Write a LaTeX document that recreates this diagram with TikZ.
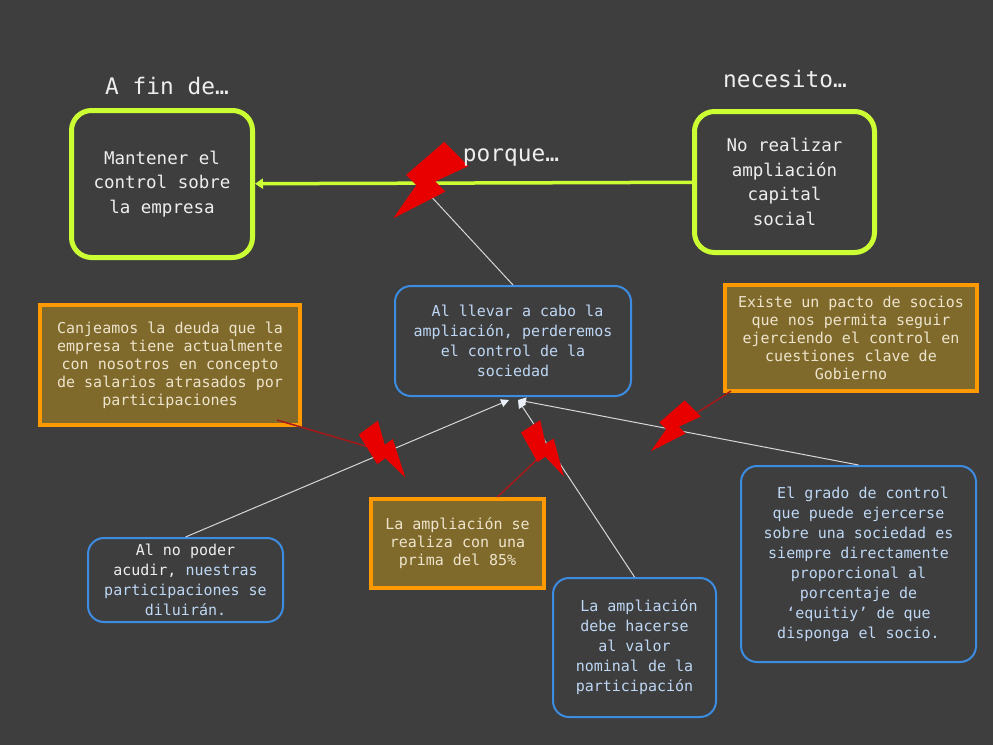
\documentclass[tikz,border=0pt]{standalone}
\usepackage{fontspec}
\setmonofont{DejaVu Sans Mono}
\usetikzlibrary{arrows.meta,calc}
\definecolor{bg}{RGB}{62,62,62}
\definecolor{lime}{RGB}{204,255,51}
\definecolor{bblue}{RGB}{60,140,225}
\definecolor{orng}{RGB}{255,153,0}
\definecolor{olive}{RGB}{127,106,43}
\definecolor{cream}{RGB}{238,228,205}
\definecolor{ltblue}{RGB}{190,215,245}
\definecolor{wtext}{RGB}{238,238,238}
\definecolor{boltred}{RGB}{232,0,0}
\definecolor{darkred}{RGB}{165,25,25}
\definecolor{grayline}{RGB}{215,215,215}
\definecolor{tipwhite}{RGB}{235,240,248}
\tikzset{
 greenbox/.style={draw=lime, line width=5pt, rounded corners=20pt, fill=bg, text=wtext, align=center, inner sep=0pt, font=\ttfamily\fontsize{17.5}{24.5}\selectfont},
 bluebox/.style={draw=bblue, line width=2pt, rounded corners=16pt, fill=bg, text=ltblue, align=center, inner sep=0pt, font=\ttfamily\fontsize{15}{20}\selectfont},
 orangebox/.style={draw=orng, line width=4pt, fill=olive, text=cream, align=center, inner sep=0pt, font=\ttfamily\fontsize{15}{18}\selectfont},
 title/.style={text=wtext, font=\ttfamily\fontsize{22.8}{26}\selectfont, inner sep=0pt},
 link/.style={draw=grayline, line width=1pt, -{Triangle[length=8pt,width=8pt,fill=tipwhite,color=tipwhite]}},
 plainlink/.style={draw=grayline, line width=1pt},
 redlink/.style={draw=darkred, line width=1.5pt},
 greenarrow/.style={draw=lime, line width=3.5pt, -{Triangle[length=8pt,width=10pt]}},
 bolt/.pic={\fill[boltred] (-18,-50) -- (20,-50) -- (6,-12) -- (22,-12) -- (2,50) -- (-6,6) -- (-22,6) -- cycle;}
}
\begin{document}
\begin{tikzpicture}[x=1pt,y=-1pt]
\fill[bg] (0,0) rectangle (993,745);
\useasboundingbox (0,0) rectangle (993,745);

% green boxes
\node[greenbox, minimum width=181pt, minimum height=147pt] (goal) at (162,184)
  {Mantener el\\control sobre\\la empresa};
\node[greenbox, minimum width=180pt, minimum height=141pt] (need) at (784.5,182)
  {No realizar\\ampliación\\capital\\social};

% blue boxes
\node[bluebox, minimum width=236pt, minimum height=110pt] (central) at (513,341)
  {\ Al llevar a cabo la\\ampliación, perderemos\\el control de la\\sociedad};
\node[bluebox, minimum width=195pt, minimum height=84pt] (alno) at (185.5,580)
  {\textcolor{wtext}{Al no poder}\\\textcolor{wtext}{acudir,} nuestras\\participaciones se\\diluirán.};
\node[bluebox, minimum width=163pt, minimum height=139pt] (debe) at (634.5,647.5)
  {\ La ampliación\\debe hacerse\\al valor\\nominal de la\\participación};
\node[bluebox, minimum width=235pt, minimum height=196pt] (grado) at (858.5,564)
  {\ El grado de control\\que puede ejercerse\\sobre una sociedad es\\siempre directamente\\proporcional al\\porcentaje de\\‘equitiy’ de que\\disponga el socio.};

% orange boxes
\node[orangebox, minimum width=260pt, minimum height=120pt] (canje) at (170,365)
  {Canjeamos la deuda que la\\empresa tiene actualmente\\con nosotros en concepto\\de salarios atrasados por\\participaciones};
\node[orangebox, minimum width=173pt, minimum height=89pt] (prima) at (457.5,543.5)
  {La ampliación se\\realiza con una\\prima del 85\%};
\node[orangebox, minimum width=252pt, minimum height=106pt] (pacto) at (851,338)
  {Existe un pacto de socios\\que nos permita seguir\\ejerciendo el control en\\cuestiones clave de\\Gobierno};

% main arrow
\draw[greenarrow] (need) -- coordinate[pos=0.625] (hit) (goal);
\draw[plainlink] (central.north) -- (hit);

% links into central box
\coordinate (tipL) at ($(central.south)+(-4,3)$);
\coordinate (tipR) at ($(central.south)+(5,3)$);
\draw[link] (alno.north) -- coordinate[pos=0.62] (b1) (tipL);
\draw[link] (debe.north) -- coordinate[pos=0.73] (b2) (tipR);
\draw[link] (grado.north) -- coordinate[pos=0.55] (b3) (tipR);

% red links from assumptions
\draw[redlink] ($(canje.south east)+(-25,-7)$) -- (b1);
\draw[redlink] ($(prima.north)+(40,0)$) -- (b2);
\draw[redlink] ($(pacto.south west)+(8,-2)$) -- (b3);

% bolts
\pic[rotate=-45, scale=0.9] at ($(hit)+(5,2)$) {bolt};
\pic[rotate=36, scale=0.62] at ($(b1)+(0,1)$) {bolt};
\pic[rotate=33, scale=0.6] at ($(b2)+(-3,4)$) {bolt};
\pic[rotate=-45, scale=0.6] at (b3) {bolt};

% titles
\node[title] (tfin) at (167,86) {A fin de…};
\node[title] (tnec) at (785,79) {necesito…};
\node[title] (tpor) at (511,158) {porque…};
\end{tikzpicture}
\end{document}
